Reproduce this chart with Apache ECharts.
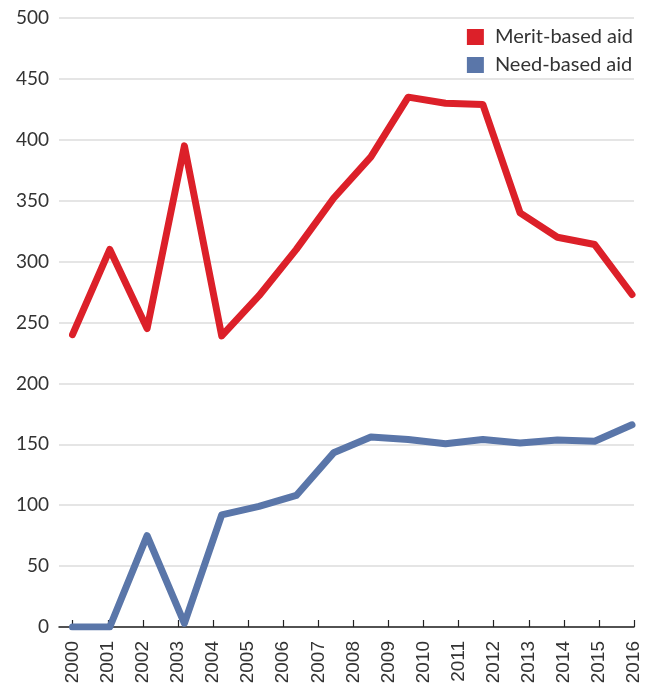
<!DOCTYPE html>
<html>
<head>
<meta charset="utf-8">
<script src="https://cdn.jsdelivr.net/npm/echarts@6/dist/echarts.min.js"></script>
<style>
  html, body { margin: 0; padding: 0; background: #fff; }
  #chart { width: 649px; height: 685px; }
</style>
</head>
<body>
<div id="chart"></div>
<script>
// tick labels on the year axis
const years = ["2000", "2001", "2002", "2003", "2004", "2005", "2006", "2007", "2008",
  "2009", "2010", "2011", "2012", "2013", "2014", "2015", "2016"];
// the lines have 16 points, spread evenly over the axis
const slots = ["1", "2", "3", "4", "5", "6", "7", "8", "9", "10", "11", "12", "13", "14", "15", "16"];
const meritAid = [240, 310, 245, 395, 239, 272, 310, 352, 386, 435, 430, 429, 340, 320, 314, 273];
const needAid = [0, 0, 75, 3, 92, 99, 108, 143, 156, 154, 150.5, 154, 151, 153.5, 152.5, 166];

const RED = "#dc2029";
const BLUE = "#5a76a9";
const TEXT = "#333333";

let myCharts = echarts.init(document.getElementById("chart"));
const gridBase = { top: 18, bottom: 58, outerBoundsMode: "none" };
myCharts.setOption({
  animation: false,
  grid: [
    // y labels + gridlines + axis line
    Object.assign({ left: 59, right: 15 }, gridBase),
    // year ticks and labels
    Object.assign({ left: 72.7, right: 15 }, gridBase),
    // the lines themselves
    Object.assign({ left: 72.5, right: 17 }, gridBase),
  ],
  legend: {
    orient: "vertical",
    right: 11,
    top: 22,
    icon: "rect",
    itemWidth: 17,
    itemHeight: 16,
    itemGap: 8,
    textStyle: {
      fontFamily: "Lato",
      fontSize: 20,
      color: TEXT,
      lineHeight: 20,
      padding: [0, 0, 0, 6],
    },
    data: ["Merit-based aid", "Need-based aid"],
  },
  xAxis: [
    {
      gridIndex: 0,
      type: "value",
      min: 0,
      max: 1,
      axisLine: { show: true, lineStyle: { color: "#222", width: 1.5 } },
      axisTick: { show: false },
      axisLabel: { show: false },
      splitLine: { show: false },
    },
    {
      gridIndex: 1,
      type: "category",
      boundaryGap: false,
      data: years,
      axisLine: { show: false },
      axisTick: {
        show: true,
        inside: true,
        length: 7,
        alignWithLabel: true,
        lineStyle: { color: "#222", width: 1.2 },
      },
      axisLabel: {
        rotate: 90,
        interval: 0,
        margin: 14,
        fontFamily: "Liberation Sans",
        fontSize: 19,
        color: TEXT,
      },
      splitLine: { show: false },
    },
    {
      gridIndex: 2,
      type: "category",
      boundaryGap: false,
      data: slots,
      show: false,
    },
  ],
  yAxis: [
    {
      gridIndex: 0,
      type: "value",
      min: 0,
      max: 500,
      interval: 50,
      axisLine: { show: false },
      axisTick: { show: false },
      axisLabel: {
        margin: 10,
        fontFamily: "Lato",
        fontSize: 19,
        color: TEXT,
      },
      splitLine: { lineStyle: { color: "#dcdcdc", width: 1.5 } },
    },
    { gridIndex: 1, type: "value", min: 0, max: 500, show: false },
    { gridIndex: 2, type: "value", min: 0, max: 500, show: false },
  ],
  series: [
    {
      name: "Merit-based aid",
      type: "line",
      xAxisIndex: 2,
      yAxisIndex: 2,
      data: meritAid,
      showSymbol: false,
      symbol: "none",
      color: RED,
      lineStyle: { width: 7, color: RED, cap: "round", join: "round" },
      z: 3,
    },
    {
      name: "Need-based aid",
      type: "line",
      xAxisIndex: 2,
      yAxisIndex: 2,
      data: needAid,
      showSymbol: false,
      symbol: "none",
      color: BLUE,
      lineStyle: { width: 7, color: BLUE, cap: "round", join: "round" },
      z: 3,
    },
  ],
});
</script>
</body>
</html>
